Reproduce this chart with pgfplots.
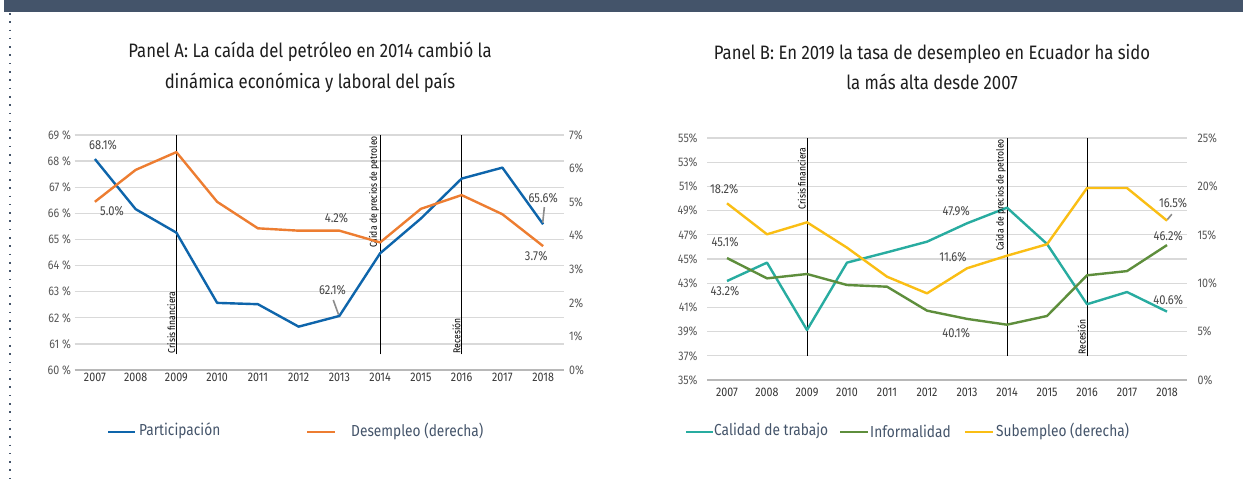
\documentclass[border=0pt]{standalone}
\usepackage{pgfplots}
\pgfplotsset{compat=1.18}
\usepackage{fontspec}
\setmainfont{Fira Sans}[FakeStretch=0.86]

\definecolor{slate}{RGB}{68,84,106}
\definecolor{cblue}{RGB}{14,101,171}
\definecolor{corange}{RGB}{237,125,49}
\definecolor{cteal}{RGB}{40,172,160}
\definecolor{cgreen}{RGB}{94,142,60}
\definecolor{cyellow}{RGB}{250,190,20}
\definecolor{gridgray}{RGB}{217,217,217}
\definecolor{ticktxt}{RGB}{89,89,89}
\definecolor{titletxt}{RGB}{30,30,30}

% años en 0..11 (0 = 2007)
\pgfplotsset{
  base/.style={scale only axis, xmin=-0.5, xmax=11.5, clip=false,
    axis line style={draw=none}, major tick length=0pt,
    tick label style={font=\fontsize{12.5}{14}\selectfont, text=ticktxt},
    xtick={0,1,2,3,4,5,6,7,8,9,10,11},
    xticklabels={2007,2008,2009,2010,2011,2012,2013,2014,2015,2016,2017,2018},
    grid style={gridgray, line width=1.3bp}},
  serie/.style={line width=2.4bp, mark=none, line join=round},
}
\tikzset{
  lbl/.style={font=\fontsize{13}{14}\selectfont, text=black!72, inner sep=0pt},
  ann/.style={font=\fontsize{10}{11}\selectfont, rotate=90, inner sep=1bp},
  leg/.style={anchor=west, font=\fontsize{16}{17}\selectfont, text=slate, inner sep=1bp},
}

\begin{document}
\begin{tikzpicture}[x=1bp, y=1bp]
\path[fill=white, use as bounding box] (0,0) rectangle (1243,484);
% banda superior y borde punteado
\fill[slate] (4,472) rectangle (1243,484);
\draw[slate, line width=2bp, dash pattern=on 1.6bp off 6.7bp] (9.5,471) -- (9.5,0);

% títulos
\node[align=center, font=\fontsize{19.5}{31}\selectfont, text=titletxt] at (310,417)
  {Panel A: La caída del petróleo en 2014 cambió la\\dinámica económica y laboral del país};
\node[align=center, font=\fontsize{19.5}{31}\selectfont, text=titletxt] at (932,417)
  {Panel B: En 2019 la tasa de desempleo en Ecuador ha sido\\la más alta desde 2007};

% ---------------- Panel A ----------------
\begin{axis}[base, at={(74.5bp,114bp)}, anchor=south west, width=489bp, height=235bp,
  ymin=60, ymax=69, ytick={60,61,62,63,64,65,66,67,68,69},
  yticklabels={60 \%,61 \%,62 \%,63 \%,64 \%,65 \%,66 \%,67 \%,68 \%,69 \%},
  ymajorgrids, xticklabel style={text=black!78}]
\draw[black!28, line width=2.6bp] (axis cs:-0.5,60) -- (axis cs:11.5,60);
\pgfplotsinvokeforeach{2,7,9}{
  \draw[black, line width=0.9bp] (axis cs:#1,60.6) -- (axis cs:#1,69);}
\addplot[serie, cblue] coordinates {(0,68.08) (1,66.16) (2,65.26) (3,62.57)
  (4,62.52) (5,61.66) (6,62.07) (7,64.47) (8,65.80) (9,67.33)
  (10,67.75) (11,65.58)};
\node[ann, anchor=south west] at (axis cs:2,60.6) {Crisis financiera};
\node[ann, anchor=south east] at (axis cs:7,69) {Caída de precios de petroleo};
\node[ann, anchor=south west] at (axis cs:9,60.6) {Recesión};
\node[lbl] at (axis cs:0.2,68.62) {68.1\%};
\node[lbl] at (axis cs:0.42,66.09) {5.0\%};
\node[lbl] at (axis cs:5.93,65.82) {4.2\%};
\node[lbl] at (axis cs:5.83,63.06) {62.1\%};
\draw[black!45, line width=1.6bp] (axis cs:5.85,62.68) -- (axis cs:5.98,62.12);
\node[lbl] at (axis cs:11.0,66.59) {65.6\%};
\draw[black!45, line width=1.6bp] (axis cs:11.03,66.24) -- (axis cs:10.99,65.64);
\node[lbl] at (axis cs:10.83,64.37) {3.7\%};
\end{axis}
\begin{axis}[base, at={(74.5bp,114bp)}, anchor=south west, width=489bp, height=235bp,
  ymin=0, ymax=7, ytick={0,1,2,3,4,5,6,7},
  yticklabels={0\%,1\%,2\%,3\%,4\%,5\%,6\%,7\%},
  axis y line*=right, hide x axis, yticklabel style={xshift=2bp}]
\addplot[serie, corange] coordinates {(0,5.01) (1,5.96) (2,6.49) (3,5.01)
  (4,4.22) (5,4.15) (6,4.15) (7,3.80) (8,4.80) (9,5.21)
  (10,4.64) (11,3.69)};
\end{axis}

% leyenda A
\draw[cblue, line width=2.4bp] (108,52) -- (135,52);
\node[leg] at (138,53) {Participación};
\draw[corange, line width=2.4bp] (307,52) -- (335,52);
\node[leg] at (350,53) {Desempleo (derecha)};

% ---------------- Panel B ----------------
\begin{axis}[base, at={(707bp,104bp)}, anchor=south west, width=480bp, height=242bp,
  ymin=35, ymax=55, ytick={35,37,39,41,43,45,47,49,51,53,55},
  yticklabels={35\%,37\%,39\%,41\%,43\%,45\%,47\%,49\%,51\%,53\%,55\%},
  ymajorgrids, yticklabel style={xshift=-6bp},
  xticklabel style={text=black!78, yshift=-5bp}]
\draw[black!28, line width=2.6bp] (axis cs:-0.5,35) -- (axis cs:11.5,35);
\pgfplotsinvokeforeach{2,7,9}{
  \draw[black, line width=0.9bp] (axis cs:#1,37) -- (axis cs:#1,55);}
\addplot[serie, cteal] coordinates {(0,43.18) (1,44.70) (2,39.13) (3,44.70)
  (4,45.55) (5,46.43) (6,47.95) (7,49.24) (8,46.24) (9,41.26)
  (10,42.27) (11,40.65)};
\addplot[serie, cgreen] coordinates {(0,45.08) (1,43.40) (2,43.76) (3,42.85)
  (4,42.71) (5,40.73) (6,40.05) (7,39.57) (8,40.29) (9,43.65)
  (10,44.00) (11,46.15)};
\node[ann, anchor=south east] at (axis cs:2,54.3) {Crisis financiera};
\node[ann, anchor=south east] at (axis cs:7,55) {Caída de precios de petroleo};
\node[ann, anchor=south west] at (axis cs:9,37) {Recesión};
\node[lbl] at (axis cs:-0.07,50.79) {18.2\%};
\node[lbl] at (axis cs:-0.05,46.40) {45.1\%};
\node[lbl] at (axis cs:-0.05,42.36) {43.2\%};
\node[lbl] at (axis cs:5.73,48.97) {47.9\%};
\node[lbl] at (axis cs:5.65,45.17) {11.6\%};
\node[lbl] at (axis cs:5.73,38.88) {40.1\%};
\node[lbl] at (axis cs:11.15,49.63) {16.5\%};
\draw[black!45, line width=1.6bp] (axis cs:11.12,48.70) -- (axis cs:11.0,48.22);
\node[lbl] at (axis cs:11.03,46.9) {46.2\%};
\node[lbl] at (axis cs:11.03,41.61) {40.6\%};
\end{axis}
\begin{axis}[base, at={(707bp,104bp)}, anchor=south west, width=480bp, height=242bp,
  ymin=0, ymax=25, ytick={0,5,10,15,20,25},
  yticklabels={0\%,5\%,10\%,15\%,20\%,25\%},
  axis y line*=right, hide x axis, yticklabel style={xshift=7bp}]
\addplot[serie, cyellow] coordinates {(0,18.25) (1,15.05) (2,16.29) (3,13.67)
  (4,10.67) (5,8.95) (6,11.54) (7,12.84) (8,14.02) (9,19.83)
  (10,19.83) (11,16.46)};
\end{axis}

% leyenda B
\draw[cteal, line width=2.4bp] (686,52) -- (713,52);
\node[leg] at (713,53) {Calidad de trabajo};
\draw[cgreen, line width=2.4bp] (840,52) -- (868,52);
\node[leg] at (869,53) {Informalidad};
\draw[cyellow, line width=2.4bp] (965,52) -- (993,52);
\node[leg] at (995,53) {Subempleo (derecha)};
\end{tikzpicture}
\end{document}
